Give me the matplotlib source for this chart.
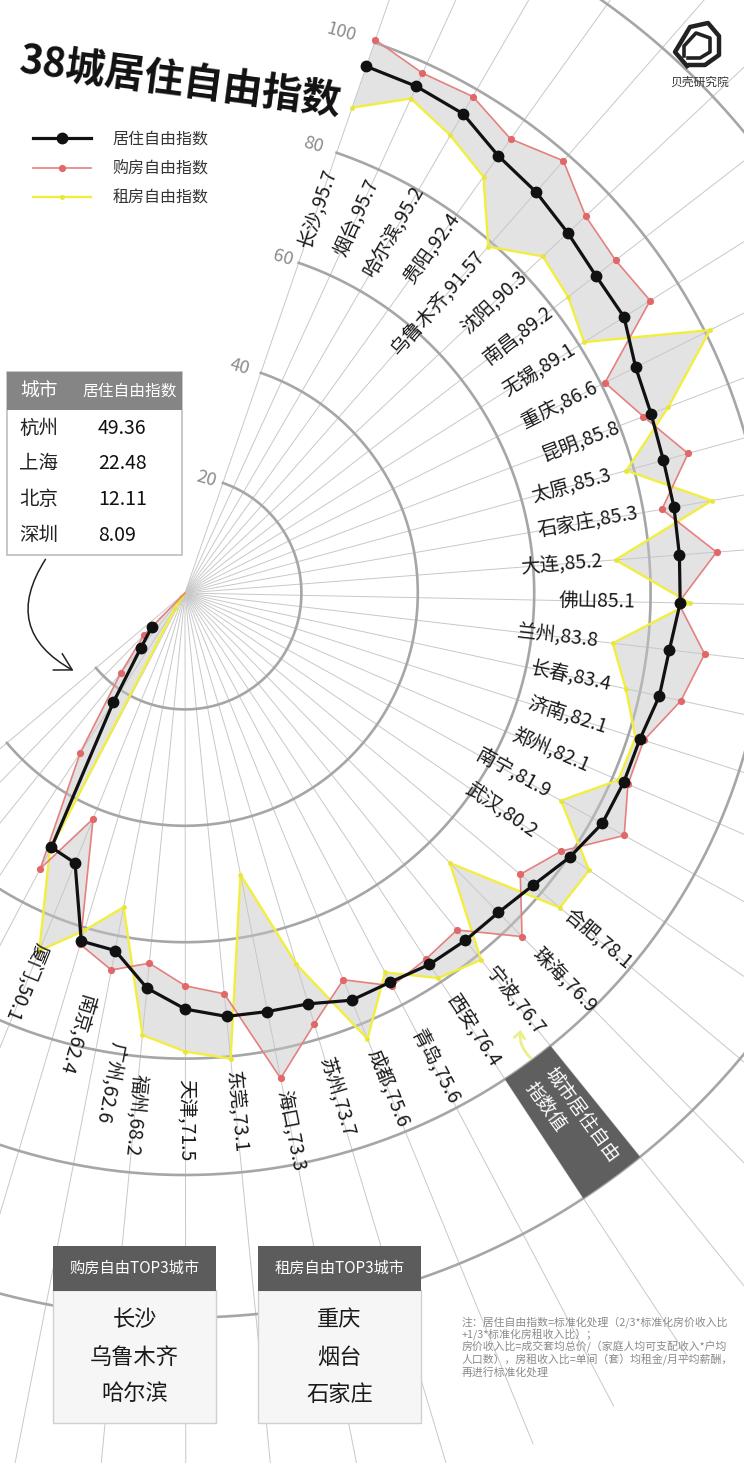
import numpy as np
import matplotlib
matplotlib.use('Agg')
import matplotlib.pyplot as plt
from matplotlib.lines import Line2D
from matplotlib.patches import Rectangle, FancyArrowPatch

plt.rcParams['font.family'] = ['Noto Sans CJK SC', 'DejaVu Sans']

# ---- data (clockwise order) ----
cities = ['长沙', '烟台', '哈尔滨', '贵阳', '乌鲁木齐', '沈阳', '南昌', '无锡', '重庆', '昆明',
          '太原', '石家庄', '大连', '佛山', '兰州', '长春', '济南', '郑州', '南宁', '武汉',
          '合肥', '珠海', '宁波', '西安', '青岛', '成都', '苏州', '海口', '东莞', '天津',
          '福州', '广州', '南京', '厦门', '杭州', '上海', '北京', '深圳']
living = [95.7, 95.7, 95.2, 92.4, 91.57, 90.3, 89.2, 89.1, 86.6, 85.8,
          85.3, 85.3, 85.2, 85.1, 83.8, 83.4, 82.1, 82.1, 81.9, 80.2,
          78.1, 76.9, 76.7, 76.4, 75.6, 75.6, 73.7, 73.3, 73.1, 71.5,
          68.2, 62.6, 62.4, 50.1, 49.36, 22.48, 12.11, 8.09]
buying = [100.5, 98.2, 98.6, 96.0, 98.7, 94.5, 93.5, 94.4, 80.7, 84.4,
          89.7, 83.2, 91.6, 84.8, 89.9, 87.2, 82.8, 82.9, 86.2, 78.4,
          75.2, 82.7, 74.4, 75.3, 76.3, 71.8, 77.3, 85.0, 69.2, 67.5,
          63.9, 66.0, 63.0, 41.9, 53.5, 32.8, 17.6, 10.0]
renting = [88.2, 93.4, 90.9, 88.0, 79.1, 84.4, 83.2, 81.0, 100.9, 89.0,
           78.7, 91.9, 74.2, 86.8, 74.0, 77.5, 81.3, 81.1, 73.8, 84.2,
           84.1, 65.0, 81.0, 79.2, 73.7, 82.8, 66.6, 49.3, 80.4, 78.8,
           76.3, 55.0, 60.5, 66.4, 50.0, 3.0, 2.0, 1.0]
ring_values = [20, 40, 60, 80, 100]
note_lines = ['注：居住自由指数=标准化处理（2/3*标准化房价收入比',
              '+1/3*标准化房租收入比）；',
              '房价收入比=成交套均总价/（家庭人均可支配收入*户均',
              '人口数），房租收入比=单间（套）均租金/月平均薪酬，',
              '再进行标准化处理']

# ---- layout ----
W, H = 744, 1463
cx, cy = 185, 593          # centre of the fan in pixels
px = 5.82                  # pixels per index point
rmax = 160
theta0, step = 71.0, 5.55  # first spoke and spacing, degrees
outer_ring = 124.5
# radius where each city label ends (inner labels) / starts (outer labels)
label_r = [77, 78, 80.5, 80, 77.5, 80, 79.5, 79, 79, 80,
           76, 79, 72, 77.5, 71.5, 75, 76, 75.5, 71.5, 73,
           85.5, 86, 83, 83, 85, 85, 83.5, 87, 82.5, 83.5,
           83, 78, 71, 65]
# small sideways nudge (degrees) for a few bottom-left labels
label_shift = {31: 2.5, 32: 3.0}
ring_label_ang = [79.4, 76.4, 73.7, 74.0, 74.4]

n = len(cities)
ang = np.deg2rad(theta0 - step * np.arange(n + 1))   # extra spoke closes the fan

fig = plt.figure(figsize=(W / 100, H / 100), dpi=100)
R = rmax * px
ax = fig.add_axes([(cx - R) / W, (H - cy - R) / H, 2 * R / W, 2 * R / H], projection='polar')
ax.set_ylim(0, rmax)
ax.set_axis_off()

# spokes and rings
ax.vlines(ang, 0, 158, color='#c8c8c8', lw=0.7, zorder=1)
arc = np.linspace(ang[-1], ang[0], 500)
for rv in ring_values + [outer_ring]:
    ax.plot(arc, np.full_like(arc, rv), color='#a6a6a6', lw=1.9, zorder=2)
for rv, ta in zip(ring_values, ring_label_ang):
    ax.text(np.deg2rad(ta), rv, str(rv), rotation=-16, ha='center', va='center',
            fontsize=13, color='#8c8c8c', zorder=8)

# buy / rent lines close into the centre on the extra spoke
buy_c = np.append(buying, 0.0)
rent_c = np.append(renting, 0.0)
ax.fill(np.concatenate([ang, ang[::-1]]), np.concatenate([buy_c, rent_c[::-1]]),
        color='#c6c6c6', alpha=0.48, lw=0, zorder=3)

rent_style = dict(color='#f2ee40', lw=1.7)
buy_style = dict(color='#e58080', lw=1.2)
live_style = dict(color='#111111', lw=2.3)
ax.plot(ang, rent_c, zorder=4, **rent_style)
ax.plot(ang[:n], renting, 'o', ms=3.5, mfc='#e8e63a', mec='none', zorder=4)
ax.plot(ang, buy_c, zorder=5, **buy_style)
ax.plot(ang[:n], buying, 'o', ms=5.2, mfc='#e06868', mec='none', zorder=5)
ax.plot(ang[:n], living, marker='o', ms=7.5, mfc='#111111', mec='#111111', zorder=6, **live_style)

# city labels along the spokes
for i in range(len(label_r)):
    t = np.rad2deg(ang[i])
    ta = ang[i] + np.deg2rad(label_shift.get(i, 0.0))
    sep = '' if cities[i] == '佛山' else ','
    ax.text(ta, label_r[i], f'{cities[i]}{sep}{living[i]:g}', rotation=t,
            rotation_mode='anchor', ha='right' if i < 20 else 'left', va='center',
            fontsize=14, color='#1a1a1a', zorder=8)

# dark sector tag
wc = (ang[22] + ang[23]) / 2
ax.bar(wc, outer_ring - 100, width=abs(ang[22] - ang[23]), bottom=100,
       color='#5f5f5f', lw=0, zorder=7)
ax.text(wc, 103, '城市居住自由\n指数值', rotation=np.rad2deg(wc), rotation_mode='anchor',
        ha='left', va='center', multialignment='left', fontsize=13.5, color='white',
        linespacing=1.15, zorder=8)

# ---- overlay in pixel coordinates ----
ov = fig.add_axes([0, 0, 1, 1])
ov.set_xlim(0, W)
ov.set_ylim(H, 0)
ov.set_axis_off()
ov.set_zorder(5)

ov.text(180, 82, '38城居住自由指数', rotation=-7.5, ha='center', va='center',
        fontsize=28.5, fontweight='bold', color='#111111')

handles = [Line2D([], [], marker='o', ms=7.5, mfc='#111111', mec='#111111', **live_style),
           Line2D([], [], marker='o', ms=5.2, mfc='#e06868', mec='none', **buy_style),
           Line2D([], [], marker='o', ms=3.5, mfc='#e8e63a', mec='none', **rent_style)]
ov.legend(handles, ['居住自由指数', '购房自由指数', '租房自由指数'], loc='upper left',
          bbox_to_anchor=(33 / W, 1 - 131 / H), bbox_transform=fig.transFigure,
          frameon=False, fontsize=11.5, handlelength=3.6, handletextpad=1.4,
          labelspacing=0.78, borderpad=0, borderaxespad=0, numpoints=1,
          labelcolor='#333333')

# table of the four cities beyond the fan
ov.add_patch(Rectangle((7, 372), 175, 183, fc='white', ec='#bdbdbd', lw=1.2))
ov.add_patch(Rectangle((7, 372), 175, 38, fc='#858585', ec='none'))
ov.text(20, 391, '城市', color='white', fontsize=13.5, va='center')
ov.text(82, 391, '居住自由指数', color='white', fontsize=11.3, va='center')
for k, i in enumerate(range(34, 38)):
    y = 428 + k * 35.7
    ov.text(19, y, cities[i], fontsize=14, va='center', color='#222222')
    ov.text(98, y, f'{living[i]:.2f}', fontsize=14, va='center', color='#111111')

ov.add_patch(FancyArrowPatch((47, 557), (76, 672), connectionstyle='arc3,rad=0.55',
                             arrowstyle='->,head_length=0.8,head_width=0.45',
                             mutation_scale=15, lw=1.1, color='#222222'))
ov.add_patch(FancyArrowPatch((533, 1060), (521, 1027), connectionstyle='arc3,rad=-0.3',
                             arrowstyle='->,head_length=0.3,head_width=0.25',
                             mutation_scale=15, lw=2, color='#e9f08a'))

# top-3 boxes
top_buy = [cities[i] for i in np.argsort(buying)[::-1][:3]]
top_rent = [cities[i] for i in np.argsort(renting)[::-1][:3]]
for x0, title, names in [(53, '购房自由TOP3城市', top_buy), (258, '租房自由TOP3城市', top_rent)]:
    ov.add_patch(Rectangle((x0, 1290), 163, 133, fc='#f6f6f6', ec='#d0d0d0', lw=1))
    ov.add_patch(Rectangle((x0, 1246), 163, 45, fc='#5c5c5c', ec='none'))
    ov.text(x0 + 81.5, 1268, title, color='white', fontsize=11, ha='center', va='center')
    for k, name in enumerate(names):
        ov.text(x0 + 81.5, 1320 + k * 37, name, fontsize=16, ha='center', va='center',
                color='#1a1a1a')

for k, line in enumerate(note_lines):
    ov.text(462, 1322 + k * 12.5, line, fontsize=7.8, va='center', color='#8a8a8a')

# logo
ov.plot([687, 675, 690, 708, 719, 719, 705, 690], [66, 52, 27, 23, 36, 55, 65, 65],
        color='#222222', lw=3.2, solid_joinstyle='round')
ov.plot([684, 684, 696, 710, 710, 700, 688], [56, 46, 33, 38, 52, 58, 58],
        color='#222222', lw=2.6, solid_joinstyle='round')
ov.text(700, 82, '贝壳研究院', fontsize=8.5, ha='center', va='center', color='#333333')

fig.savefig('out.png', dpi=100, facecolor='white')
